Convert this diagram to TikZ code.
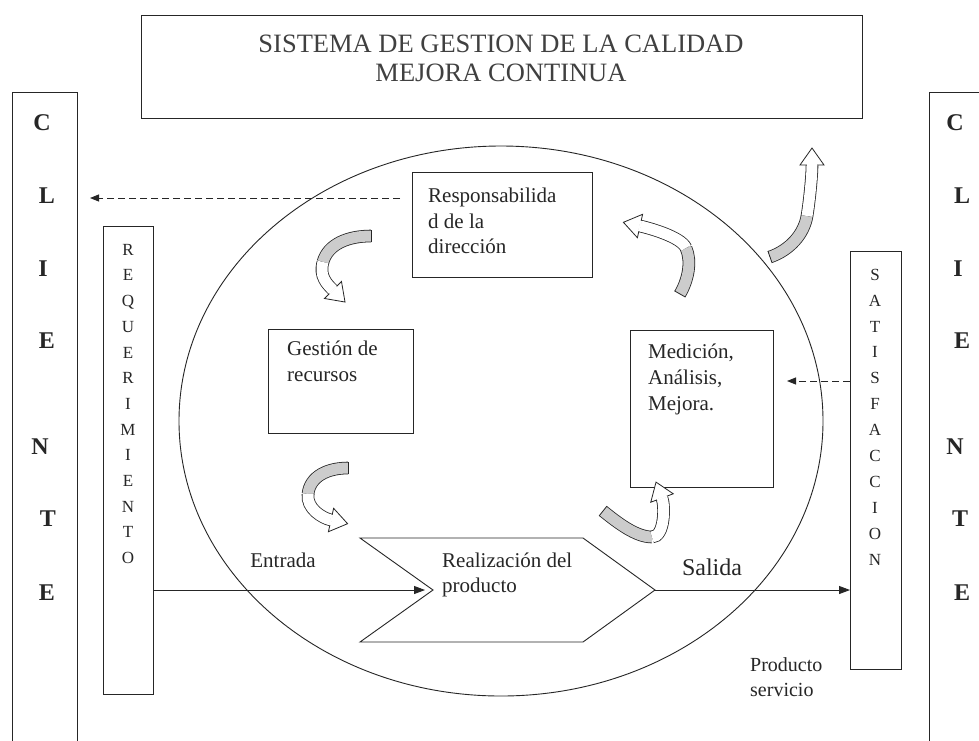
\documentclass[tikz,border=0pt]{standalone}
\usepackage{fontspec}
\setmainfont{Liberation Serif}
\usetikzlibrary{arrows.meta,calc,shapes.geometric}
\definecolor{shadegray}{gray}{0.80}
\definecolor{ink}{gray}{0.15}
% curved block arrow: #1 tail, #2 c1, #3 c2, #4 mid, #5 c4, #6 head base
\newcommand\cbarrow[6]{%
  \coordinate (cbT) at #1; \coordinate (cbA) at #2; \coordinate (cbB) at #3;
  \coordinate (cbM) at #4; \coordinate (cbD) at #5; \coordinate (cbH) at #6;
  \coordinate (cbC) at ($(cbM)!-0.8!(cbB)$);
  \draw[ribbon, double=shadegray] (cbT) .. controls (cbA) and (cbB) .. (cbM);
  \draw[ribbon, double=white] (cbM) .. controls (cbC) and (cbD) .. (cbH);
  \draw[draw=ink, line width=0.8pt] ($(cbT)!6.3pt!90:(cbA)$) -- ($(cbT)!6.3pt!-90:(cbA)$);
  \filldraw[fill=white, draw=ink, line width=0.8pt] ($(cbH)!12pt!90:(cbD)$) -- ($(cbH)!-17pt!(cbD)$) -- ($(cbH)!12pt!-90:(cbD)$) -- cycle;
  \draw[white, line width=1.8pt] ($(cbH)!5.1pt!90:(cbD)$) -- ($(cbH)!5.1pt!-90:(cbD)$);
}
\begin{document}
\begin{tikzpicture}[x=1pt,y=-1pt,
  bx/.style={draw=ink, line width=1pt, rectangle, inner sep=0pt, anchor=north west},
  txt/.style={inner sep=0pt, anchor=base west, font=\fontsize{21}{26}\selectfont, text=ink},
  bigl/.style={inner sep=0pt, anchor=base, font=\bfseries\fontsize{24}{24}\selectfont, text=ink},
  smalll/.style={inner sep=0pt, anchor=base, font=\fontsize{17}{17}\selectfont, text=ink},
  dsh/.style={draw=ink, line width=0.9pt, dash pattern=on 7pt off 4pt, -{Triangle[length=9pt,width=7pt]}},
  flow/.style={draw=ink, line width=0.9pt, -{Triangle[length=11pt,width=8pt]}},
  ribbon/.style={draw=ink, line width=0.8pt, double distance=11pt},
]
\useasboundingbox (0,0) rectangle (979,740);
\fill[white] (0,0) rectangle (979,740);
% title
\node[bx, minimum width=721pt, minimum height=103pt] (title) at (141,15) {};
\node[font=\fontsize{26.5}{29}\selectfont, align=center, inner sep=0pt, text=black!75] (titletxt) at (501,58.5) {SISTEMA DE GESTION DE LA CALIDAD\\MEJORA CONTINUA};
% client columns
\node[bx, minimum width=65pt, minimum height=680pt] (cliL) at (12,92) {};
\node[bx, minimum width=70pt, minimum height=680pt] (cliR) at (929,92) {};
\node[bx, minimum width=50pt, minimum height=468pt] (req) at (103,226) {};
\node[bx, minimum width=51pt, minimum height=418pt] (sat) at (850,251) {};
\foreach \l/\x/\y [count=\i] in {C/42/122,L/47/195,I/43/268,E/47/340,N/40/446,T/48/518,E/47/592}
  \node[bigl] (cl\i) at (\x,{\y+8.7}) {\l};
\foreach \l/\x/\y [count=\i] in {C/955/122,L/962/195,I/958/268,E/962/340,N/955/446,T/960/518,E/962/592}
  \node[bigl] (cr\i) at (\x,{\y+8.7}) {\l};
\foreach \l [count=\i] in {R,E,Q,U,E,R,I,M,I,E,N,T,O}
  \node[smalll] (rq\i) at (128,{249+25.7*(\i-1)+6.2}) {\l};
\foreach \l [count=\i] in {S,A,T,I,S,F,A,C,C,I,O,N}
  \node[smalll] (st\i) at (875,{274+25.9*(\i-1)+6.2}) {\l};
% big cycle
\node[draw=ink, line width=0.9pt, ellipse, minimum width=644pt, minimum height=550pt, inner sep=0pt] (cyc) at (501,421) {};
% process boxes
\node[bx, minimum width=180pt, minimum height=105pt] (resp) at (412,172) {};
\node[bx, minimum width=145pt, minimum height=104pt] (gest) at (268,329) {};
\node[bx, minimum width=143pt, minimum height=157pt] (med) at (630,330) {};
\coordinate (chevtip) at (655,590);
\coordinate (chevnotch) at (433,590);
\draw[draw=ink, line width=0.9pt] (360,538) -- (583,538) -- (chevtip) -- (583,642) -- (360,642) -- (chevnotch) -- cycle;
% texts
\node[txt] (t1a) at (428,202) {Responsabilida};
\node[txt] (t1b) at (428,228) {d de la};
\node[txt] (t1c) at (428,253) {dirección};
\node[txt] (t2a) at (287,355) {Gestión de};
\node[txt] (t2b) at (287,381) {recursos};
\node[txt] (t3a) at (648,358) {Medición,};
\node[txt] (t3b) at (648,384) {Análisis,};
\node[txt] (t3c) at (648,410) {Mejora.};
\node[txt] (t4a) at (442,567) {Realización del};
\node[txt] (t4b) at (442,592) {producto};
\node[txt, anchor=base] (tin) at (283,567) {Entrada};
\node[txt, anchor=base, font=\fontsize{24}{28}\selectfont] (tout) at (712,575) {Salida};
\node[txt, font=\fontsize{20}{24}\selectfont] (tp1) at (750,671) {Producto};
\node[txt, font=\fontsize{20}{24}\selectfont] (tp2) at (750,696) {servicio};
% connectors
\coordinate (dshA) at (400,198);
\coordinate (dshB) at (90,198);
\draw[dsh] (dshA) -- (dshB);
\coordinate (satq) at (787,381);
\draw[dsh] (satq -| sat.west) -- (satq);
\coordinate (inA) at (425,590);
\draw[flow] (inA -| req.east) -- (inA);
\draw[flow] (chevtip) -- (chevtip -| sat.west);
% curved block arrows
\cbarrow{(371,236)}{(348,236)}{(328,244)}{(323,262)}{(327,284)}{(333,290)}
\cbarrow{(680,294)}{(688,280)}{(692,262)}{(686,248)}{(649,228)}{(640,226)}
\cbarrow{(348,468)}{(328,468)}{(310,476)}{(308,494)}{(322,518)}{(331,520)}
\cbarrow{(603,511)}{(618,523)}{(636,537)}{(652,537)}{(665,506)}{(662,498)}
\cbarrow{(770,257)}{(790,250)}{(804,234)}{(807,216)}{(812,176)}{(812,165)}
\end{tikzpicture}
\end{document}
